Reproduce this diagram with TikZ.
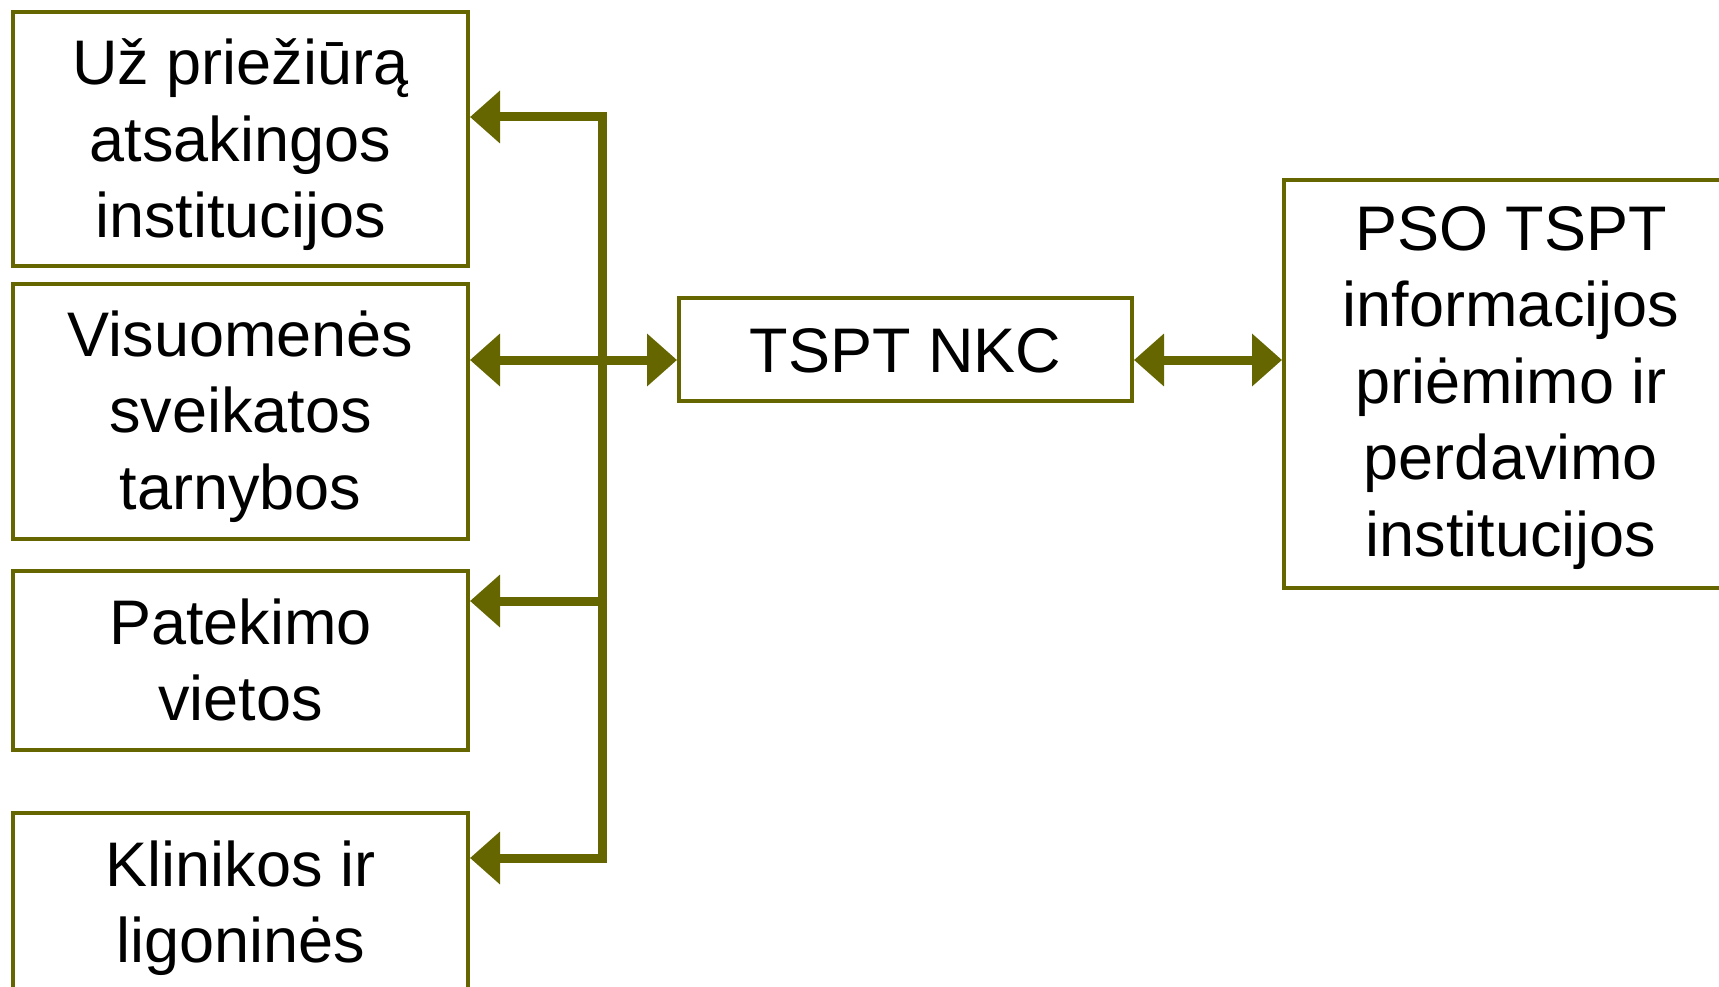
\documentclass[tikz,border=0pt]{standalone}
\usepackage{fontspec}
\setmainfont{Liberation Sans}
\usetikzlibrary{arrows.meta}
\definecolor{oliveline}{HTML}{666600}
\newcommand\mytop[1]{\rule{0pt}{#1pt}}
\newcommand\mybot{\rule[-16pt]{0pt}{16pt}}
\begin{document}
\begin{tikzpicture}[x=1pt,y=1pt,
  box/.style={draw=oliveline, line width=4pt, fill=white, inner sep=0pt,
    align=center, font=\fontsize{63}{76.5}\selectfont},
  tipx/.tip={Triangle[length=30pt,width=51pt]},
  conn/.style={draw=oliveline, line width=9pt, line join=miter}
]
\useasboundingbox (0,0) rectangle (1719,-987);
\clip (0,0) rectangle (1719,-987);

\node[box, minimum width=455pt, minimum height=254pt] (b1) at (240.5,-139)
  {\mytop{60}Už priežiūrą\\atsakingos\\\mybot institucijos};
\node[box, minimum width=455pt, minimum height=255pt] (b2) at (240.5,-411.5)
  {\mytop{58}Visuomenės\\sveikatos\\\mybot tarnybos};
\node[box, minimum width=455pt, minimum height=179pt] (b3) at (240.5,-660.5)
  {\mytop{59.5}Patekimo\\\mybot vietos};
\node[box, minimum width=455pt, minimum height=189pt] (b4) at (240.5,-907.5)
  {\mytop{49.5}Klinikos ir\\\mybot ligoninės};
\node[box, minimum width=453pt, minimum height=103pt] (nkc) at (905.5,-349.5)
  {\mytop{61}\mybot TSPT NKC};
\node[box, minimum width=454pt, minimum height=408pt] (pso) at (1511,-384)
  {\mytop{54}PSO TSPT\\informacijos\\priėmimo ir\\perdavimo\\\mybot institucijos};

\coordinate (top) at (602,-117);
\coordinate (bot) at (602,-858);
\coordinate (j2) at (602,-360);
\coordinate (j3) at (602,-601);

\draw[conn, tipx-tipx] (b1.east |- top) -- (top) -- (bot) -- (b4.east |- bot);
\draw[conn, tipx-tipx] (b2.east |- j2) -- (nkc.west |- j2);
\draw[conn, -tipx] (j3) -- (b3.east |- j3);
\draw[conn, tipx-tipx] (nkc.east |- j2) -- (pso.west |- j2);
\end{tikzpicture}
\end{document}
